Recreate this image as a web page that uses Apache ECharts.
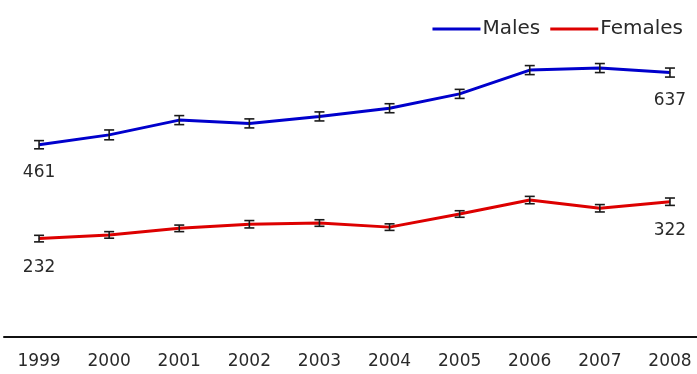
<!DOCTYPE html>
<html><head><meta charset="utf-8">
<script src="https://cdn.jsdelivr.net/npm/echarts@6/dist/echarts.min.js"></script>
<style>html,body{margin:0;padding:0;background:#fff}#c{width:697px;height:374px}</style>
</head><body><div id="c"></div>
<script>
var years = ['1999','2000','2001','2002','2003','2004','2005','2006','2007','2008'];
var males = [461, 485, 521, 513, 530, 550, 585, 643, 648, 637];
var malesErr = [10, 12, 11, 11, 11, 11, 11, 11, 11, 11];
var females = [232, 241, 257, 267, 270, 260, 292, 326, 306, 322];
var femalesErr = [8, 8, 8, 9, 8, 8, 8, 9, 9, 9];

var FONT = 'DejaVu Sans';
function errData(vals, errs) {
  return vals.map(function (v, i) { return [i, v - errs[i], v + errs[i]]; });
}
function renderErr(params, api) {
  var x = api.value(0);
  var lo = api.coord([x, api.value(1)]);
  var hi = api.coord([x, api.value(2)]);
  var hw = 5;
  var st = { stroke: '#1a1a1a', lineWidth: 1.6 };
  return { type: 'group', children: [
    { type: 'line', shape: { x1: lo[0], y1: lo[1], x2: hi[0], y2: hi[1] }, style: st },
    { type: 'line', shape: { x1: lo[0] - hw, y1: lo[1], x2: lo[0] + hw, y2: lo[1] }, style: st },
    { type: 'line', shape: { x1: hi[0] - hw, y1: hi[1], x2: hi[0] + hw, y2: hi[1] }, style: st }
  ]};
}
function endLabel(p) {
  return (p.dataIndex === 0 || p.dataIndex === years.length - 1) ? String(p.value) : '';
}
var labelStyle = { show: true, position: 'bottom', formatter: endLabel,
  fontFamily: FONT, fontSize: 17, color: '#2a2a2a' };
var chart = echarts.init(document.getElementById('c'), null, { renderer: 'canvas' });
chart.setOption({
  animation: false,
  grid: { left: 4, width: 701, top: 25, bottom: 37, outerBoundsMode: 'none', containLabel: false },
  legend: {
    right: 9, top: 14,
    icon: 'rect', itemWidth: 48, itemHeight: 3, itemGap: 10,
    textStyle: { fontFamily: FONT, fontSize: 20, color: '#2a2a2a', padding: [0, 0, 0, -3] },
    data: ['Males', 'Females']
  },
  xAxis: {
    type: 'category', data: years, boundaryGap: true,
    axisLine: { onZero: false, lineStyle: { color: '#111', width: 2 } },
    axisTick: { show: false },
    axisLabel: { fontFamily: FONT, fontSize: 17, color: '#2a2a2a', margin: 16 }
  },
  yAxis: { type: 'value', min: -8, max: 753, show: false, splitLine: { show: false } },
  series: [
    { name: 'Males', type: 'line', data: males, symbol: 'circle', symbolSize: 1, showSymbol: true,
      lineStyle: { color: '#0000cc', width: 3 }, itemStyle: { color: '#0000cc' },
      label: Object.assign({ distance: 19 }, labelStyle) },
    { name: 'Females', type: 'line', data: females, symbol: 'circle', symbolSize: 1, showSymbol: true,
      lineStyle: { color: '#dd0000', width: 3 }, itemStyle: { color: '#dd0000' },
      label: Object.assign({ distance: 20 }, labelStyle) },
    { type: 'custom', renderItem: renderErr, data: errData(males, malesErr), z: 5 },
    { type: 'custom', renderItem: renderErr, data: errData(females, femalesErr), z: 5 }
  ]
});
</script></body></html>
